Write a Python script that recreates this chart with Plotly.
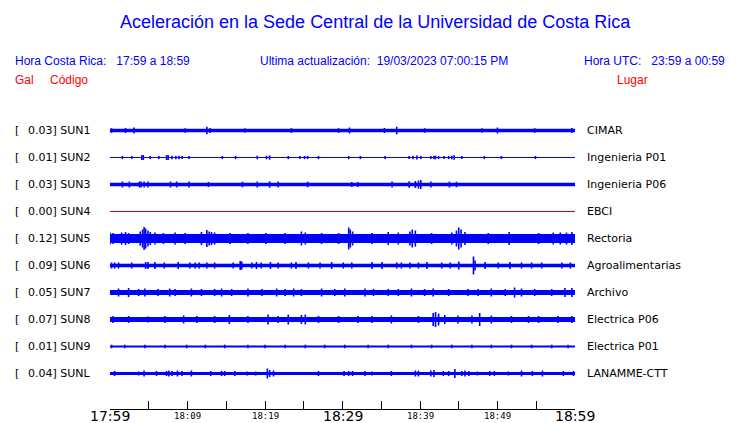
import plotly.graph_objects as go

# station codes, peak acceleration (Gal) and place names
codes = ["SUN1", "SUN2", "SUN3", "SUN4", "SUN5", "SUN6", "SUN7", "SUN8", "SUN9", "SUNL"]
gal = [0.03, 0.01, 0.03, 0.00, 0.12, 0.09, 0.05, 0.07, 0.01, 0.04]
places = ["CIMAR", "Ingenieria P01", "Ingenieria P06", "EBCI", "Rectoria",
          "Agroalimentarias", "Archivo", "Electrica P06", "Electrica P01", "LANAMME-CTT"]

# background noise level of each trace (display units, half height)
noise = [1.8, 0.5, 1.8, 0.0, 4.5, 1.8, 2.5, 2.5, 1.0, 1.5]

# bursts: (minutes after 17:59, half height in display units)
bursts_sun1 = [(0.2, 2.3), (2.0, 2.5), (3.1, 3.0), (9.7, 2.3), (12.5, 3.8), (12.9, 2.5),
               (17.4, 2.3), (23.4, 2.3), (29.5, 2.3), (30.9, 3.0), (35.4, 2.5), (37.0, 3.8),
               (40.6, 2.3), (48.0, 2.3), (50.0, 3.0), (54.8, 2.3), (59.6, 2.5)]
bursts_sun2 = [(1.6, 1.6), (2.8, 1.6), (4.1, 2.5), (4.3, 2.5), (5.2, 1.6), (6.3, 1.6),
               (7.3, 2.5), (7.5, 2.5), (8.0, 1.8), (8.5, 1.8), (8.9, 1.8), (9.3, 1.6),
               (10.2, 1.6), (14.5, 1.6), (16.2, 1.6), (19.0, 1.8), (20.2, 1.8), (20.6, 2.2),
               (23.0, 1.6), (24.5, 1.6), (25.1, 1.6), (25.5, 1.6), (26.9, 1.6), (30.8, 1.6),
               (32.3, 1.6), (35.5, 1.6), (38.6, 1.6), (39.1, 1.8), (39.6, 2.0), (40.1, 1.6),
               (41.4, 1.6), (41.8, 1.8), (42.0, 1.8), (42.4, 1.6), (43.1, 1.6), (43.7, 1.6),
               (44.1, 1.8), (44.4, 2.2), (45.4, 1.6), (48.3, 1.6), (50.5, 1.6), (54.9, 1.6)]
bursts_sun3 = [(1.6, 3.0), (2.5, 3.0), (3.8, 3.0), (4.0, 3.0), (4.4, 3.0), (4.9, 3.0),
               (7.8, 3.0), (8.6, 3.0), (10.2, 3.0), (12.7, 2.6), (17.1, 2.8), (19.0, 3.0),
               (20.6, 3.2), (21.7, 3.0), (25.5, 2.8), (31.2, 2.6), (32.0, 2.6), (36.4, 3.0),
               (38.6, 3.2), (39.4, 3.5), (39.8, 4.0), (40.1, 4.5), (41.4, 3.0), (43.8, 3.0),
               (44.7, 2.8)]
bursts_sun4 = []
bursts_sun5 = [(0.0, 6.0), (0.4, 5.5), (1.5, 6.0), (2.0, 6.5), (2.4, 5.5), (3.9, 7.0),
               (4.2, 9.0), (4.4, 11.5), (4.6, 10.0), (4.9, 8.0), (5.2, 6.5), (5.8, 6.0),
               (6.9, 5.5), (8.4, 6.0), (9.7, 5.5), (11.8, 6.5), (12.5, 8.5), (12.8, 7.0),
               (13.1, 6.5), (13.5, 6.0), (15.5, 5.5), (17.8, 5.5), (20.1, 5.5), (22.6, 5.5),
               (24.7, 7.0), (25.2, 6.0), (27.3, 5.5), (29.5, 5.5), (30.8, 11.0), (31.0, 9.0),
               (31.3, 7.0), (33.8, 5.5), (35.9, 6.5), (37.2, 6.0), (38.7, 7.0), (39.0, 9.0),
               (39.4, 8.0), (41.5, 5.5), (44.1, 6.0), (44.7, 8.0), (45.0, 11.0), (45.3, 9.0),
               (45.8, 6.5), (48.8, 5.5), (51.5, 6.5), (55.3, 5.5), (57.2, 6.0), (58.1, 6.0),
               (58.9, 6.0), (59.6, 6.5)]
bursts_sun6 = [(0.2, 3.0), (0.6, 3.0), (1.1, 3.0), (2.8, 3.0), (4.6, 3.5), (4.9, 3.5),
               (5.8, 3.5), (7.0, 3.0), (8.8, 3.5), (10.3, 3.0), (11.0, 3.0), (11.5, 3.0),
               (12.5, 3.0), (13.5, 3.0), (15.9, 3.0), (16.8, 4.5), (17.0, 4.0), (18.3, 3.0),
               (18.9, 3.5), (19.5, 3.0), (20.7, 3.5), (21.7, 3.0), (23.4, 3.0), (24.0, 3.5),
               (25.6, 3.0), (27.1, 3.0), (28.6, 3.5), (30.1, 3.0), (31.2, 3.0), (33.8, 3.5),
               (35.1, 3.5), (37.0, 3.0), (37.6, 3.0), (38.7, 3.0), (39.8, 3.0), (40.9, 3.5),
               (42.8, 3.0), (43.9, 3.0), (45.0, 4.0), (46.9, 9.0), (47.1, 5.0), (48.4, 3.5),
               (50.1, 3.0), (51.6, 3.5), (53.1, 3.0), (54.4, 3.0), (55.7, 3.0), (58.3, 3.0),
               (59.4, 3.0)]
bursts_sun7 = [(1.1, 4.0), (2.4, 4.5), (3.7, 3.5), (4.5, 4.0), (6.2, 3.5), (7.7, 4.0),
               (8.4, 3.5), (10.5, 4.0), (11.8, 3.5), (13.5, 3.5), (14.4, 4.0), (15.7, 3.5),
               (17.8, 4.0), (19.6, 3.5), (21.5, 4.0), (22.6, 3.5), (23.7, 4.0), (24.7, 3.5),
               (27.3, 4.0), (29.0, 3.5), (30.3, 4.0), (32.9, 4.0), (34.0, 3.5), (35.9, 3.5),
               (37.2, 3.5), (38.9, 4.0), (40.6, 3.5), (41.7, 4.0), (43.7, 3.5), (46.2, 3.5),
               (47.5, 3.5), (49.2, 4.0), (51.0, 3.5), (52.2, 5.0), (53.1, 4.0), (54.8, 3.5),
               (57.0, 3.5), (58.7, 4.5), (59.6, 4.5)]
bursts_sun8 = [(0.4, 3.5), (2.4, 3.5), (4.9, 3.0), (7.1, 3.5), (9.5, 4.0), (11.2, 3.5),
               (13.5, 3.5), (15.4, 4.5), (17.8, 3.5), (20.4, 5.0), (21.7, 3.5), (23.0, 5.0),
               (24.7, 4.5), (25.2, 5.0), (26.9, 3.5), (29.5, 3.5), (32.0, 3.5), (33.8, 3.5),
               (36.3, 4.0), (39.8, 3.5), (41.7, 6.5), (42.0, 7.5), (42.4, 6.0), (43.2, 4.5),
               (44.9, 4.0), (46.7, 4.0), (47.7, 6.5), (49.2, 4.0), (51.8, 3.5), (54.0, 3.5),
               (55.3, 3.5), (57.8, 3.5), (59.6, 3.5)]
bursts_sun9 = [(0.2, 1.8), (1.9, 1.8), (4.5, 1.8), (7.1, 1.8), (9.9, 1.8), (12.3, 1.8),
               (14.8, 1.8), (17.8, 1.8), (20.0, 1.8), (22.6, 1.8), (25.2, 1.8), (27.7, 1.8),
               (30.3, 1.8), (33.3, 1.8), (35.9, 1.8), (38.9, 1.8), (41.5, 1.8), (44.1, 1.8),
               (46.7, 1.8), (49.2, 1.8), (51.8, 1.8), (54.4, 1.8), (57.0, 1.8), (59.1, 1.8)]
bursts_sunl = [(0.6, 2.5), (3.7, 2.0), (4.4, 3.0), (6.0, 2.5), (7.3, 2.5), (7.6, 3.0),
               (8.0, 2.5), (8.7, 3.0), (9.3, 2.5), (10.5, 3.0), (13.0, 2.5), (14.4, 2.5),
               (14.8, 2.5), (16.1, 2.5), (17.7, 2.0), (18.8, 2.0), (20.3, 5.0), (20.6, 3.5),
               (21.1, 3.0), (26.9, 2.5), (30.2, 2.5), (30.8, 2.5), (31.3, 2.5), (32.9, 2.5),
               (33.8, 2.0), (36.3, 2.5), (39.4, 3.0), (39.8, 3.0), (41.4, 3.0), (41.8, 3.5),
               (43.0, 2.5), (43.7, 2.5), (44.5, 4.5), (45.4, 2.5), (45.8, 3.0), (46.3, 2.5),
               (47.4, 2.0), (49.0, 2.5), (49.6, 2.5), (51.4, 2.0), (53.1, 3.0), (54.5, 2.5),
               (55.8, 3.0), (58.5, 2.5), (59.8, 2.5)]

bursts = [bursts_sun1, bursts_sun2, bursts_sun3, bursts_sun4, bursts_sun5,
          bursts_sun6, bursts_sun7, bursts_sun8, bursts_sun9, bursts_sunl]

tick_minutes = list(range(0, 61, 5))
time_labels = {0: "17:59", 10: "18:09", 20: "18:19", 30: "18:29",
               40: "18:39", 50: "18:49", 60: "18:59"}

BLUE = "#0000ff"
RED = "#ff0000"
GAIN = 1 / 27.0  # display units -> row spacing

# plot area in pixels
L, R, T, B = 110, 575, 110, 409


def px(x):
    return (x - L) / (R - L)


def py(y):
    return (B - y) / (B - T)


fig = go.Figure()

for i, code in enumerate(codes):
    b = noise[i] * GAIN
    if noise[i] == 0:
        fig.add_trace(go.Scatter(x=[0, 60], y=[i, i], mode="lines",
                                 line=dict(color="#e00000", width=1),
                                 hoverinfo="skip"))
        continue
    # background noise band
    fig.add_trace(go.Scatter(
        x=[0, 60, 60, 0, 0], y=[i - b, i - b, i + b, i + b, i - b],
        mode="lines", fill="toself", fillcolor=BLUE,
        line=dict(color=BLUE, width=0), hoverinfo="skip"))
    # bursts
    xs, ys = [], []
    for t, a in bursts[i]:
        xs += [t, t, None]
        ys += [i - a * GAIN, i + a * GAIN, None]
    fig.add_trace(go.Scatter(x=xs, y=ys, mode="lines",
                             line=dict(color=BLUE, width=1.6), hoverinfo="skip"))

ann = []
label_font = dict(family="DejaVu Sans", size=11, color="black")
for i, code in enumerate(codes):
    ann.append(dict(x=px(13), y=i, xref="paper", yref="y", text="[",
                    showarrow=False, xanchor="left", font=label_font))
    ann.append(dict(x=px(26), y=i, xref="paper", yref="y",
                    text=f"{gal[i]:.2f}] {code}",
                    showarrow=False, xanchor="left", font=label_font))
    ann.append(dict(x=px(585), y=i, xref="paper", yref="y", text=places[i],
                    showarrow=False, xanchor="left", font=label_font))

for m, lab in time_labels.items():
    big = m in (0, 30, 60)
    ann.append(dict(x=m, y=0, xref="x", yref="paper", text=lab, showarrow=False,
                    xanchor="center", yanchor="middle", yshift=-7,
                    font=dict(family="DejaVu Sans" if big else "DejaVu Sans Mono",
                              size=14 if big else 9, color="black")))

info_font = dict(family="Liberation Sans", size=12, color=BLUE)
red_font = dict(family="Liberation Sans", size=12, color=RED)
ann += [
    dict(x=px(375), y=py(22), text="Aceleración en la Sede Central de la Universidad de Costa Rica",
         font=dict(family="Liberation Sans", size=18, color=BLUE), xanchor="center"),
    dict(x=px(13), y=py(61), text="Hora Costa Rica:   17:59 a 18:59", font=info_font, xanchor="left"),
    dict(x=px(258), y=py(61), text="Ultima actualización:  19/03/2023 07:00:15 PM",
         font=info_font, xanchor="left"),
    dict(x=px(727), y=py(61), text="Hora UTC:   23:59 a 00:59", font=info_font, xanchor="right"),
    dict(x=px(13), y=py(80), text="Gal", font=red_font, xanchor="left"),
    dict(x=px(48), y=py(80), text="Código", font=red_font, xanchor="left"),
    dict(x=px(650), y=py(80), text="Lugar", font=red_font, xanchor="right"),
]
for a in ann[-7:]:
    a.update(xref="paper", yref="paper", showarrow=False, yanchor="middle")

fig.update_layout(
    width=740, height=423,
    margin=dict(l=L, r=740 - R, t=T, b=423 - B),
    paper_bgcolor="white", plot_bgcolor="white",
    showlegend=False,
    annotations=ann,
    xaxis=dict(range=[0, 60], showline=True, linecolor="black", linewidth=1,
               ticks="inside", ticklen=8, tickcolor="black", tickwidth=1,
               tickvals=tick_minutes, showticklabels=False,
               showgrid=False, zeroline=False, fixedrange=True),
    # rows sit on pixel centres so the 1 px traces stay sharp
    yaxis=dict(range=[9 + 35.5 / 27, -20.5 / 27], visible=False,
               showgrid=False, zeroline=False, fixedrange=True),
)

# the page's default body margin would push the 740x423 figure off the window
fig.write_html("out.html", config={"displayModeBar": False},
               post_script="document.body.style.margin='0';")
